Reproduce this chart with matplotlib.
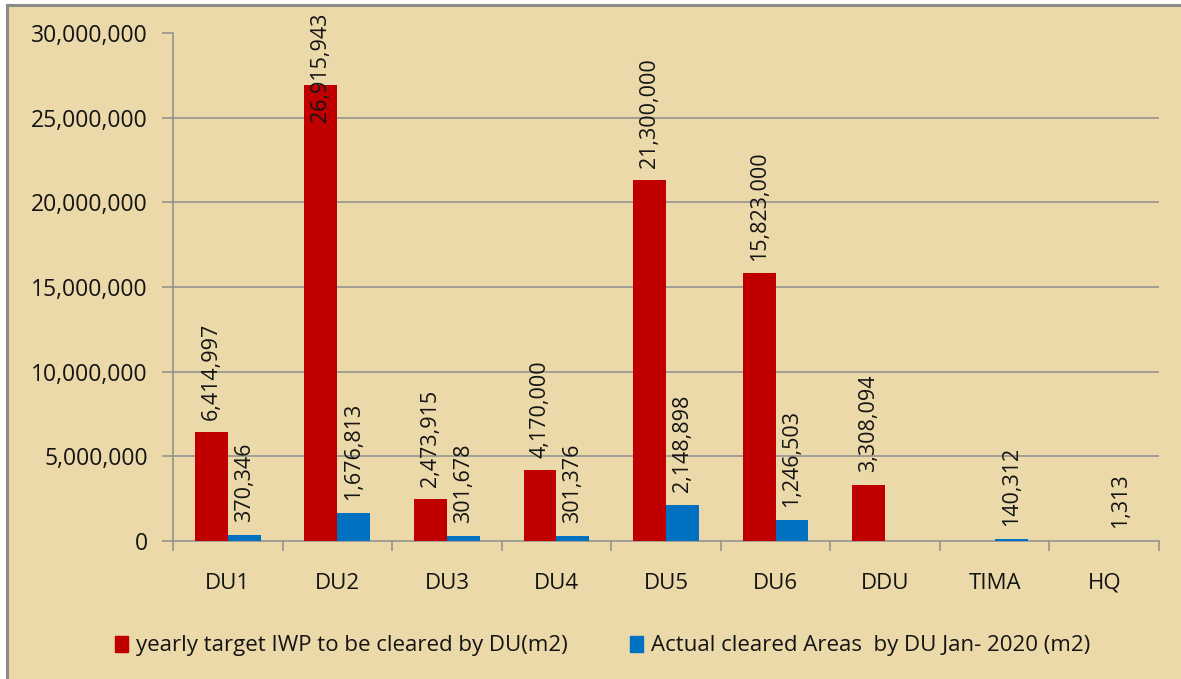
import matplotlib
matplotlib.use("Agg")
import matplotlib.pyplot as plt
import matplotlib.patches as mpatches
from matplotlib.lines import Line2D
import numpy as np

categories = ["DU1", "DU2", "DU3", "DU4", "DU5", "DU6", "DDU", "TIMA", "HQ"]
target_values = [6414997, 26915943, 2473915, 4170000, 21300000, 15823000, 3308094, None, None]
actual_values = [370346, 1676813, 301678, 301376, 2148898, 1246503, None, 140312, 1313]
series_names = ["yearly target IWP to be cleared by DU(m2)",
                "Actual cleared Areas  by DU Jan- 2020 (m2)"]
y_ticks = [0, 5000000, 10000000, 15000000, 20000000, 25000000, 30000000]

RED = "#C00000"
BLUE = "#0070C0"
BG = "#EBD9A9"
GRID = "#8E8E8E"
FONT = "Open Sans"
TXT = "#141414"
W, H = 1181, 679

fig = plt.figure(figsize=(W / 100, H / 100), dpi=100, facecolor="white")

# papyrus-like background panel with border
bg = mpatches.Rectangle((7 / W, 0), 1, 1 - 5 / H, transform=fig.transFigure,
                        facecolor=BG, edgecolor="none", zorder=-10)
fig.patches.append(bg)
fig.add_artist(Line2D([7 / W, 1], [1 - 5 / H, 1 - 5 / H], transform=fig.transFigure,
                      color="#8A8A8A", lw=2.2))
fig.add_artist(Line2D([7 / W, 7 / W], [0, 1 - 5 / H], transform=fig.transFigure,
                      color="#8A8A8A", lw=2.2))

ax = fig.add_axes([173 / W, 1 - 541 / H, (1159 - 173) / W, (541 - 33) / H])
ax.set_facecolor("none")

x = np.arange(len(categories))
bw = 0.3
t = np.array([np.nan if v is None else v for v in target_values], dtype=float)
a = np.array([np.nan if v is None else v for v in actual_values], dtype=float)

ax.bar(x - bw / 2, np.nan_to_num(t), bw, color=RED, zorder=3)
ax.bar(x + bw / 2, np.nan_to_num(a), bw, color=BLUE, zorder=3)

ax.set_xlim(-0.5, len(categories) - 0.5)
ax.set_ylim(0, 30000000)

LABEL_CAP = 24000000
for xs, vals in ((x - bw / 2, t), (x + bw / 2, a)):
    for xi, v in zip(xs, vals):
        if not np.isnan(v):
            ax.annotate(f"{int(v):,}", (xi, min(v, LABEL_CAP)), xytext=(0, 9),
                        textcoords="offset points", rotation=90, ha="center", va="bottom",
                        fontsize=15.5, family=FONT, color=TXT, zorder=5,
                        annotation_clip=False)

# gridlines (not at top)
for yv in y_ticks[1:-1]:
    ax.axhline(yv, color=GRID, lw=1.1, zorder=1)

ax.set_yticks(y_ticks)
ax.set_yticklabels([f"{v:,}" for v in y_ticks], fontsize=16.5, family=FONT, color=TXT)
ax.set_xticks(np.arange(-0.5, len(categories), 1.0))
ax.set_xticklabels([])
ax.set_xticks(x, minor=True)
ax.set_xticklabels(categories, minor=True, fontsize=16, family=FONT, color=TXT)
ax.tick_params(axis="x", which="major", length=7, color=GRID, width=1.1, direction="out")
ax.tick_params(axis="x", which="minor", length=0, pad=23)
ax.tick_params(axis="y", length=8, color=GRID, width=1.1, pad=10)

for s in ["top", "right"]:
    ax.spines[s].set_visible(False)
for s in ["left", "bottom"]:
    ax.spines[s].set_color(GRID)
    ax.spines[s].set_linewidth(1.1)

handles = [mpatches.Patch(color=RED), mpatches.Patch(color=BLUE)]
leg = fig.legend(handles, series_names, loc="center", bbox_to_anchor=(603 / W, 1 - 646 / H),
                 ncol=2, frameon=False, prop={"family": FONT, "size": 16},
                 handlelength=0.55, handleheight=0.7, handletextpad=0.4, columnspacing=2.8)
for txt in leg.get_texts():
    txt.set_color(TXT)

fig.savefig("out.png", dpi=100, facecolor="white")
